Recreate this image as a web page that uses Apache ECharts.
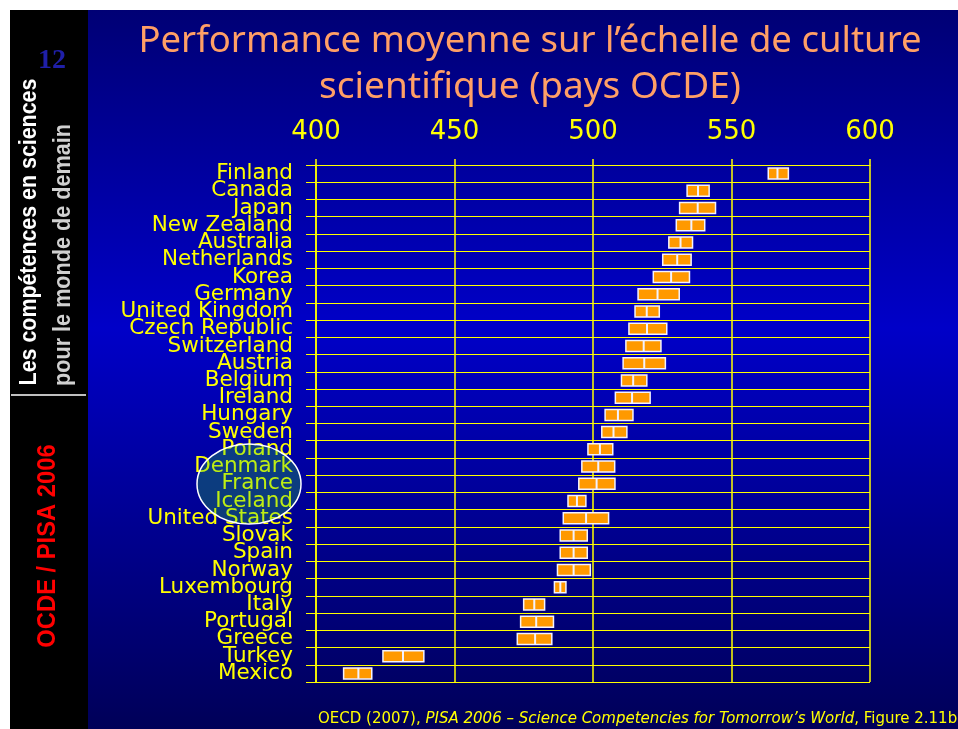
<!DOCTYPE html>
<html>
<head>
<meta charset="utf-8">
<script src="https://cdn.jsdelivr.net/npm/echarts@6/dist/echarts.min.js"></script>
<style>
  html, body { margin: 0; padding: 0; background: #fff; }
  #chart { width: 958px; height: 729px; }
</style>
</head>
<body>
<div id="chart"></div>
<script>
const countries = ['Finland', 'Canada', 'Japan', 'New Zealand', 'Australia', 'Netherlands', 'Korea',
    'Germany', 'United Kingdom', 'Czech Republic', 'Switzerland', 'Austria', 'Belgium', 'Ireland',
    'Hungary', 'Sweden', 'Poland', 'Denmark', 'France', 'Iceland', 'United States', 'Slovak',
    'Spain', 'Norway', 'Luxembourg', 'Italy', 'Portugal', 'Greece', 'Turkey', 'Mexico'];

// lower / upper edge of the box and mean (white bar)
const lower = [563.0, 533.7, 531.0, 529.8, 527.1, 524.9, 521.5, 516.0, 514.9, 512.7, 511.6, 510.6, 510.0, 507.8,
    504.1, 502.9, 497.9, 495.7, 494.6, 490.7, 489.0, 487.9, 487.9, 486.9, 485.8, 474.7, 473.6, 472.4, 423.9, 409.7];
const upper = [570.8, 542.2, 544.5, 540.6, 536.2, 535.7, 535.1, 531.4, 524.2, 526.9, 524.8, 526.4, 519.7, 520.9,
    514.7, 512.5, 507.4, 508.1, 508.2, 497.7, 505.9, 498.2, 498.2, 499.3, 490.5, 482.8, 486.0, 485.4, 439.2, 420.4];
const mean = [566.6, 537.9, 537.8, 535.5, 531.6, 530.4, 528.2, 523.3, 519.4, 519.5, 518.3, 518.5, 514.5, 514.1,
    509.0, 507.4, 502.5, 501.9, 501.3, 494.2, 497.5, 493.0, 493.0, 493.0, 488.2, 478.8, 479.5, 479.1, 431.4, 415.3];

const titleLines = ['Performance moyenne sur l\u2019échelle de culture', 'scientifique (pays OCDE)'];

const chart = echarts.init(document.getElementById('chart'));

const yellow = '#ffff00';
const labelFont = 'DejaVu Sans';
const sideFont = 'Liberation Sans';

const renderBox = (params, api) => {
    const row = api.value(0);
    const a = api.coord([api.value(1), row]);
    const b = api.coord([api.value(2), row]);
    const m = api.coord([api.value(3), row]);
    const h = 11;
    return {
        type: 'group',
        children: [
            {
                type: 'rect',
                shape: {x: a[0] + 0.75, y: a[1] - h / 2, width: b[0] - a[0] - 1.5, height: h},
                style: {fill: '#ff9900', stroke: '#f2f2ff', lineWidth: 1.5},
            },
            {
                type: 'line',
                shape: {x1: m[0], y1: a[1] - h / 2, x2: m[0], y2: a[1] + h / 2},
                style: {stroke: '#f2f2ff', lineWidth: 2},
            },
        ],
    };
};

const option = {
    animation: false,
    backgroundColor: {
        type: 'linear', x: 0, y: 0, x2: 0, y2: 1,
        colorStops: [
            {offset: 0, color: '#000072'},
            {offset: 0.45, color: '#0000c8'},
            {offset: 1, color: '#000058'},
        ],
    },
    grid: {left: 316, right: 88, top: 165, bottom: 47, outerBoundsMode: 'none'},
    xAxis: {
        type: 'value',
        position: 'top',
        min: 400,
        max: 600,
        interval: 50,
        axisLine: {show: true, lineStyle: {color: yellow, width: 1}},
        axisTick: {show: true, length: 6, lineStyle: {color: yellow, width: 1.5}},
        splitLine: {show: true, lineStyle: {color: yellow, width: 1.5}},
        axisLabel: {color: yellow, fontSize: 26, fontFamily: labelFont, margin: 20},
    },
    yAxis: {
        type: 'category',
        inverse: true,
        data: countries,
        axisLine: {show: true, lineStyle: {color: yellow, width: 1.5}},
        axisTick: {show: true, interval: 0, length: 10, lineStyle: {color: yellow, width: 1}},
        splitLine: {show: true, interval: 0, lineStyle: {color: yellow, width: 1.2}},
        axisLabel: {interval: 0, color: yellow, fontSize: 21.5, fontFamily: labelFont, margin: 23},
    },
    series: [
        {
            type: 'custom',
            renderItem: renderBox,
            encode: {x: [1, 2, 3], y: 0},
            data: countries.map((c, i) => [i, lower[i], upper[i], mean[i]]),
            z: 5,
        },
    ],
    graphic: [
        // page margins and black side strip
        {type: 'rect', shape: {x: 0, y: 0, width: 958, height: 10}, style: {fill: '#ffffff'}},
        {type: 'rect', shape: {x: 0, y: 0, width: 10, height: 729}, style: {fill: '#ffffff'}},
        {type: 'rect', shape: {x: 10, y: 10, width: 78, height: 719}, style: {fill: '#000000'}},
        {type: 'line', shape: {x1: 11, y1: 395, x2: 86, y2: 395}, style: {stroke: '#ffffff', lineWidth: 1.5}},
        {
            type: 'text', x: 52, y: 61,
            style: {text: '12', fill: '#1f1fa8', fontSize: 28, fontWeight: 'bold', fontFamily: 'Liberation Serif',
                align: 'center', verticalAlign: 'middle', textShadowColor: '#000', textShadowBlur: 2},
        },
        {
            type: 'text', x: 30, y: 232, rotation: Math.PI / 2, scaleX: 0.93,
            style: {text: 'Les compétences en sciences', fill: '#ffffff', fontSize: 23, fontWeight: 'bold',
                fontFamily: sideFont, align: 'center', verticalAlign: 'middle'},
        },
        {
            type: 'text', x: 64, y: 255, rotation: Math.PI / 2, scaleX: 0.94,
            style: {text: 'pour le monde de demain', fill: '#d0d0d0', fontSize: 23, fontWeight: 'bold',
                fontFamily: sideFont, align: 'center', verticalAlign: 'middle'},
        },
        {
            type: 'text', x: 48, y: 546, rotation: Math.PI / 2, scaleX: 0.95,
            style: {text: 'OCDE / PISA 2006', fill: '#ff0000', fontSize: 25, fontWeight: 'bold',
                fontFamily: sideFont, align: 'center', verticalAlign: 'middle'},
        },
        // title
        {
            type: 'text', x: 530, y: 42,
            style: {text: titleLines[0], fill: '#ff9f66', fontSize: 36.5, fontFamily: 'Noto Sans',
                align: 'center', verticalAlign: 'middle'},
        },
        {
            type: 'text', x: 530, y: 87,
            style: {text: titleLines[1], fill: '#ff9f66', fontSize: 37, fontFamily: 'Noto Sans',
                align: 'center', verticalAlign: 'middle'},
        },
        // source note
        {
            type: 'text', x: 318, y: 719,
            style: {
                text: '{a|OECD (2007), }{b|PISA 2006 \u2013 Science Competencies for Tomorrow\u2019s World}{a|, Figure 2.11b}',
                verticalAlign: 'middle',
                rich: {
                    a: {fill: yellow, fontSize: 15, fontFamily: labelFont},
                    b: {fill: yellow, fontSize: 15, fontFamily: labelFont, fontStyle: 'italic'},
                },
            },
        },
        // highlight round Poland .. Iceland
        {
            type: 'ellipse', z: 100,
            shape: {cx: 249, cy: 484, rx: 52, ry: 40},
            style: {fill: 'rgba(40,200,60,0.3)', stroke: '#ffffff', lineWidth: 1.5},
        },
    ],
};

chart.setOption(option);
</script>
</body>
</html>
